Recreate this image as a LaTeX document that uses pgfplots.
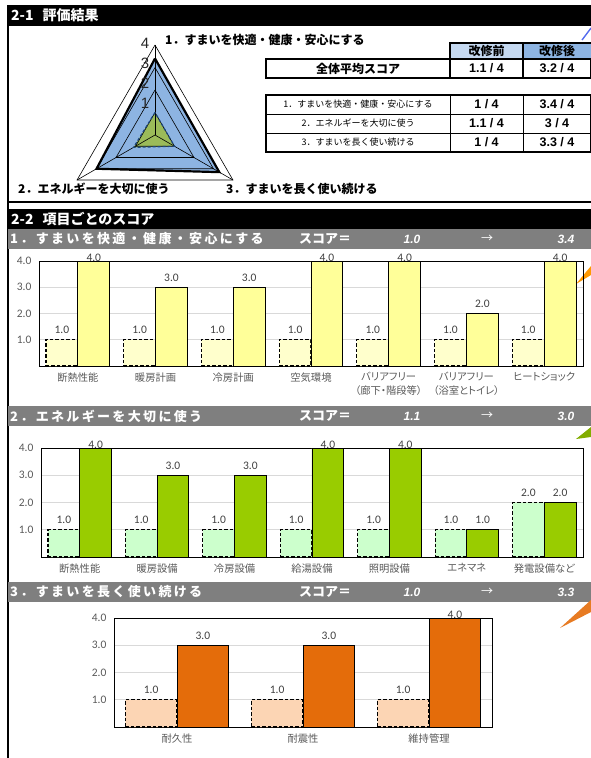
\documentclass[border=0pt]{standalone}
\usepackage{pgfplots}
\pgfplotsset{compat=1.18}
\usepgfplotslibrary{polar}
\usepackage{fontspec}
\setmainfont{Liberation Sans}
\newfontfamily\jp{Noto Sans CJK JP}
\newfontfamily\jpp{Noto Sans CJK JP}[RawFeature=+palt]
\newfontfamily\jph{Noto Sans CJK JP}[LetterSpace=18]
\newfontfamily\carl{Carlito}
\newcommand{\fs}[2]{\fontsize{#1}{#2}\selectfont}
\definecolor{hdrgray}{HTML}{7F7F7F}
\definecolor{tickgray}{HTML}{595959}
\definecolor{labgray}{HTML}{404040}
\definecolor{gridgray}{HTML}{D9D9D9}
\definecolor{radarblue}{HTML}{8DB4E2}
\definecolor{radargreen}{HTML}{9BBB59}
\definecolor{dashblue}{HTML}{1F497D}
\definecolor{thA}{HTML}{C5D9F1}
\definecolor{thB}{HTML}{8DB4E2}
\definecolor{yelA}{HTML}{FFFFCC}
\definecolor{yelB}{HTML}{FFFF99}
\definecolor{grnA}{HTML}{CCFFCC}
\definecolor{grnB}{HTML}{99CC00}
\definecolor{orgA}{HTML}{FCD5B4}
\definecolor{orgB}{HTML}{E46C0A}
\pgfplotsset{
  mybar/.style={
    scale only axis, anchor=south west, clip=false,
    ymin=0, ymax=4, ytick={1,2,3,4},
    ymajorgrids, grid style={draw=gridgray, line width=0.6pt},
    axis line style={black, line width=0.8pt},
    major tick length=0pt,
    /pgf/number format/assume math mode=true,
    /pgf/number format/fixed, /pgf/number format/fixed zerofill, /pgf/number format/precision=1,
    yticklabel style={font=\carl\fs{11.5}{13}, text=tickgray, xshift=-4pt},
    xticklabel style={font=\jpp\fs{10.3}{14}, text=tickgray, align=center, yshift=-3pt},
  },
  barlab/.style={nodes near coords,
    visualization depends on=rawy\as\rawy,
    every node near coord/.append style={font=\carl\fs{11.5}{13}, text=labgray, solid,
      shift={(axis direction cs:#1,0)},
      yshift={ifthenelse(\rawy>3.9,-4,2)}}},
  beforebar/.style={ybar, bar width=0.41, bar shift=-0.205, draw=black, line width=1.1pt,
    dash pattern=on 3.5pt off 2pt, barlab=-0.205},
  afterbar/.style={ybar, bar width=0.41, bar shift=0.205, draw=black, line width=0.9pt, barlab=0.205},
}
\begin{document}
\begin{tikzpicture}
\path[use as bounding box] (0pt,0pt) rectangle (591pt,-758pt);
\begin{scope}[x=1pt,y=-1pt]
% section headers
\fill[black] (8,5) rectangle (591,26);
\node[anchor=west, text=white, font=\jp\bfseries\fs{14}{16}, inner sep=0] at (11,15.5) {2-1\hspace{9pt}評価結果};
\draw[black, line width=1.2pt] (8,5) -- (8,758);
\draw[black, line width=1.6pt] (8,202) -- (591,202);
\fill[black] (8,209) rectangle (591,229);
\node[anchor=west, text=white, font=\jp\bfseries\fs{14}{16}, inner sep=0] at (11,219) {2-2\hspace{9pt}項目ごとのスコア};
% gray headers
\foreach \yy/\tt/\aa/\bb in {229/1．すまいを快適・健康・安心にする/1.0/3.4, 406/2．エネルギーを大切に使う/1.1/3.0, 582/3．すまいを長く使い続ける/1.0/3.3}{
  \fill[hdrgray] (8,\yy) rectangle (591,\yy+20);
  \node[anchor=west, text=white, font=\jph\bfseries\fs{13}{15}, inner sep=0] at (10,\yy+10) {\tt};
  \node[anchor=west, text=white, font=\jp\bfseries\fs{13}{15}, inner sep=0] at (299,\yy+10) {スコア＝};
  \node[text=white, font=\bfseries\itshape\fs{12}{14}, inner sep=0] at (412,\yy+10) {\aa};
  \node[text=white, font=\jp\fs{12}{14}, inner sep=0] at (487,\yy+10) {→};
  \node[text=white, font=\bfseries\itshape\fs{12}{14}, inner sep=0] at (566,\yy+10) {\bb};
}
% decorative callout tails
\draw[color=radarblue!60!blue, line width=1.4pt] (582,40) -- (591,28);
\fill[color=orange!80!yellow] (576,284) -- (591,266) -- (591,275) -- cycle;
\fill[color=grnB!85!black] (576,439) -- (591,427) -- (591,437) -- cycle;
\fill[color=orgB!90!white] (560,628) -- (591,600) -- (591,612) -- cycle;
% radar labels
\node[anchor=west, font=\jp\bfseries\fs{12}{14}, inner sep=0] at (165,39.5) {1．すまいを快適・健康・安心にする};
\node[anchor=west, font=\jp\bfseries\fs{12}{14}, inner sep=0] at (18,189) {2．エネルギーを大切に使う};
\node[anchor=west, font=\jp\bfseries\fs{12}{14}, inner sep=0] at (226,189) {3．すまいを長く使い続ける};
% table
\fill[thA] (450,43) rectangle (523,59);
\fill[thB] (523,43) rectangle (591,59);
\draw[black, line width=1.2pt] (450,59) -- (450,43) -- (591,43);
\draw[black, line width=1.2pt] (523,43) -- (523,59);
\draw[black, line width=1.3pt] (266,59) rectangle (591,78);
\draw[black, line width=1.2pt] (450,59) -- (450,78) (523,59) -- (523,78);
\draw[black, line width=1.2pt] (266,95) rectangle (591,152);
\draw[black, line width=1.0pt] (266,114) -- (591,114) (266,133) -- (591,133) (450,95) -- (450,152) (523,95) -- (523,152);
\node[font=\jp\bfseries\fs{12}{14}] at (486.5,51) {改修前};
\node[font=\jp\bfseries\fs{12}{14}] at (557,51) {改修後};
\node[font=\jp\bfseries\fs{12}{14}] at (358,68.5) {全体平均スコア};
\node[font=\bfseries\fs{12.5}{14}] at (486.5,68.5) {1.1 / 4};
\node[font=\bfseries\fs{12.5}{14}] at (557,68.5) {3.2 / 4};
\node[font=\jp\fs{9}{11}] at (358,104.5) {1．すまいを快適・健康・安心にする};
\node[font=\jp\fs{9}{11}] at (358,123.5) {2．エネルギーを大切に使う};
\node[font=\jp\fs{9}{11}] at (358,142.5) {3．すまいを長く使い続ける};
\node[font=\bfseries\fs{12.5}{14}] at (486.5,104.5) {1 / 4};
\node[font=\bfseries\fs{12.5}{14}] at (557,104.5) {3.4 / 4};
\node[font=\bfseries\fs{12.5}{14}] at (486.5,123.5) {1.1 / 4};
\node[font=\bfseries\fs{12.5}{14}] at (557,123.5) {3 / 4};
\node[font=\bfseries\fs{12.5}{14}] at (486.5,142.5) {1 / 4};
\node[font=\bfseries\fs{12.5}{14}] at (557,142.5) {3.3 / 4};
\end{scope}
% radar chart
\begin{polaraxis}[at={(155pt,-135pt)}, anchor=center, scale only axis, width=180pt, height=180pt,
  xmin=0, xmax=360, ymin=0, ymax=4, hide axis, clip=false]
\addplot[fill=radarblue, draw=none] coordinates {(90,3.4) (210,3.0) (330,3.3) (90,3.4)};
\addplot[fill=radargreen, draw=none] coordinates {(90,1.0) (210,1.1) (330,1.0) (90,1.0)};
\addplot[black, line width=0.6pt] coordinates {(90,1) (210,1) (330,1) (90,1)};
\addplot[black, line width=0.6pt] coordinates {(90,2) (210,2) (330,2) (90,2)};
\addplot[black, line width=0.6pt] coordinates {(90,3) (210,3) (330,3) (90,3)};
\addplot[black, line width=0.6pt] coordinates {(90,4) (210,4) (330,4) (90,4)};
\addplot[black, line width=0.6pt] coordinates {(90,0) (90,4)};
\addplot[black, line width=0.6pt] coordinates {(210,0) (210,4)};
\addplot[black, line width=0.6pt] coordinates {(330,0) (330,4)};
\addplot[dashblue, line width=1.2pt, dash pattern=on 3pt off 2pt] coordinates {(90,1.0) (210,1.1) (330,1.0) (90,1.0)};
\addplot[black, line width=2.2pt, line join=miter] coordinates {(90,3.4) (210,3.0) (330,3.3) (90,3.4)};
\end{polaraxis}
\begin{scope}[x=1pt,y=-1pt]
\foreach \v/\yy in {4/43,3/63,2/83,1/103}{
  \node[font=\fs{15}{16}, text=black!85, inner sep=0] at (145,\yy) {\v};
}
\end{scope}
% chart 1
\begin{axis}[mybar, at={(39pt,-366pt)}, width=544pt, height=105pt, xmin=-0.5, xmax=6.5,
  xtick={0,...,6},
  xticklabels={断熱性能,暖房計画,冷房計画,空気環境,{バリアフリー\\（廊下・階段等）},{バリアフリー\\（浴室とトイレ）},ヒートショック}]
\addplot[beforebar, fill=yelA] coordinates {(0,1) (1,1) (2,1) (3,1) (4,1) (5,1) (6,1)};
\addplot[afterbar, fill=yelB] coordinates {(0,4) (1,3) (2,3) (3,4) (4,4) (5,2) (6,4)};
\end{axis}
% chart 2
\begin{axis}[mybar, at={(41pt,-557pt)}, width=542pt, height=109pt, xmin=-0.5, xmax=6.5,
  xtick={0,...,6},
  xticklabels={断熱性能,暖房設備,冷房設備,給湯設備,照明設備,エネマネ,発電設備など}]
\addplot[beforebar, fill=grnA] coordinates {(0,1) (1,1) (2,1) (3,1) (4,1) (5,1) (6,2)};
\addplot[afterbar, fill=grnB] coordinates {(0,4) (1,3) (2,3) (3,4) (4,4) (5,1) (6,2)};
\end{axis}
% chart 3
\begin{axis}[mybar, at={(114pt,-727pt)}, width=378pt, height=109pt, xmin=-0.5, xmax=2.5,
  xtick={0,1,2},
  xticklabels={耐久性,耐震性,維持管理}]
\addplot[beforebar, fill=orgA] coordinates {(0,1) (1,1) (2,1)};
\addplot[afterbar, fill=orgB] coordinates {(0,3) (1,3) (2,4)};
\end{axis}
\end{tikzpicture}
\end{document}
